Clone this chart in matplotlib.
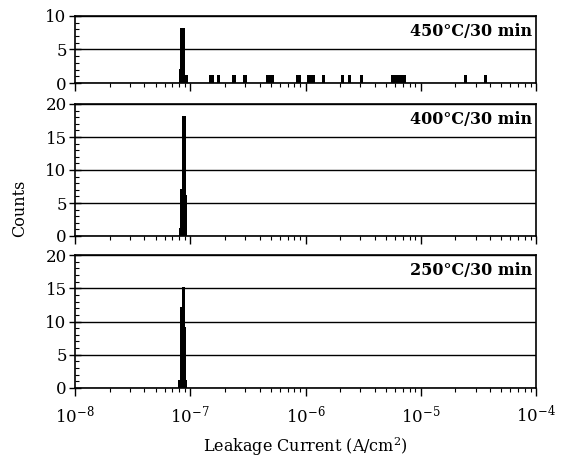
import matplotlib
matplotlib.use("Agg")
import matplotlib.pyplot as plt
from matplotlib.ticker import MultipleLocator, LogLocator, NullFormatter
import numpy as np

plt.rcParams["font.family"] = "DejaVu Serif"
plt.rcParams["mathtext.fontset"] = "dejavuserif"
plt.rcParams["axes.unicode_minus"] = False

# ── data: log10 of bin centre (A/cm^2) and counts per bin ─────────────────────
t450_logI = [-7.08, -7.07, -7.06, -7.05, -7.04, -7.03,
             -6.82, -6.81, -6.755, -6.62, -6.525,
             -6.33, -6.32, -6.31, -6.30, -6.29,
             -6.07, -6.06, -6.05, -5.97, -5.96, -5.95, -5.94, -5.93,
             -5.846, -5.677, -5.62, -5.512,
             -5.24, -5.23, -5.22, -5.21, -5.19, -5.18, -5.17, -5.16, -5.15, -5.14,
             -4.61, -4.436]
t450_n = [2, 8, 8, 1, 1, 1,
          1, 1, 1, 1, 1,
          1, 1, 1, 1, 1,
          1, 1, 1, 1, 1, 1, 1, 1,
          1, 1, 1, 1,
          1, 1, 1, 1, 1, 1, 1, 1, 1, 1,
          1, 1]

t400_logI = [-7.08, -7.07, -7.06, -7.05, -7.04]
t400_n = [1, 7, 18, 18, 6]

t250_logI = [-7.09, -7.08, -7.07, -7.06, -7.05, -7.04]
t250_n = [1, 1, 12, 15, 9, 1]

panels = [
    ("450°C/30 min", t450_logI, t450_n, 10),
    ("400°C/30 min", t400_logI, t400_n, 20),
    ("250°C/30 min", t250_logI, t250_n, 20),
]

BIN_W = 0.012  # bar width in decades

fig = plt.figure(figsize=(5.61, 4.62), dpi=100)
L, W = 75 / 561, 461 / 561
rects = [
    (L, (462 - 83) / 462, W, 67 / 462),
    (L, (462 - 236) / 462, W, 132 / 462),
    (L, (462 - 388) / 462, W, 133 / 462),
]

axes = []
for (label, logI, n, ymax), r in zip(panels, rects):
    ax = fig.add_axes(r)
    axes.append(ax)
    c = np.array(logI)
    lo = 10 ** (c - BIN_W / 2)
    hi = 10 ** (c + BIN_W / 2)
    ax.bar(lo, n, width=hi - lo, align="edge", color="black",
           edgecolor="black", linewidth=1.2, antialiased=False, zorder=3)
    ax.set_xscale("log")
    ax.set_xlim(1e-8, 1e-4)
    ax.set_ylim(0, ymax)
    ax.yaxis.set_major_locator(MultipleLocator(5))
    ax.yaxis.set_minor_locator(MultipleLocator(1))
    ax.xaxis.set_major_locator(LogLocator(base=10, numticks=10))
    ax.xaxis.set_minor_locator(LogLocator(base=10, subs=np.arange(2, 10), numticks=20))
    ax.xaxis.set_minor_formatter(NullFormatter())
    ax.grid(axis="y", which="major", color="black", linewidth=1.0, zorder=1)
    ax.tick_params(axis="y", which="major", direction="inout", length=8, width=1,
                   labelsize=12, pad=2)
    ax.tick_params(axis="y", which="minor", direction="in", length=3, width=0.8)
    ax.tick_params(axis="x", which="major", direction="out", length=6, width=1,
                   labelsize=12, pad=6)
    ax.tick_params(axis="x", which="minor", direction="out", length=3, width=0.8)
    for s in ax.spines.values():
        s.set_linewidth(1.2)
    ax.annotate(label, xy=(1, 1), xycoords="axes fraction",
                xytext=(-3, -11.5), textcoords="offset points",
                ha="right", va="center", fontsize=11.5, fontweight="bold")

for ax in axes[:-1]:
    ax.tick_params(axis="x", which="both", labelbottom=False)

axes[-1].set_xlabel("Leakage Current (A/cm$^2$)", fontsize=11.5, labelpad=6)
fig.text(20 / 561, 1 - 208 / 462, "Counts", rotation=90, ha="center",
         va="center", fontsize=11.5)

fig.savefig("out.png", dpi=100, facecolor="white")
